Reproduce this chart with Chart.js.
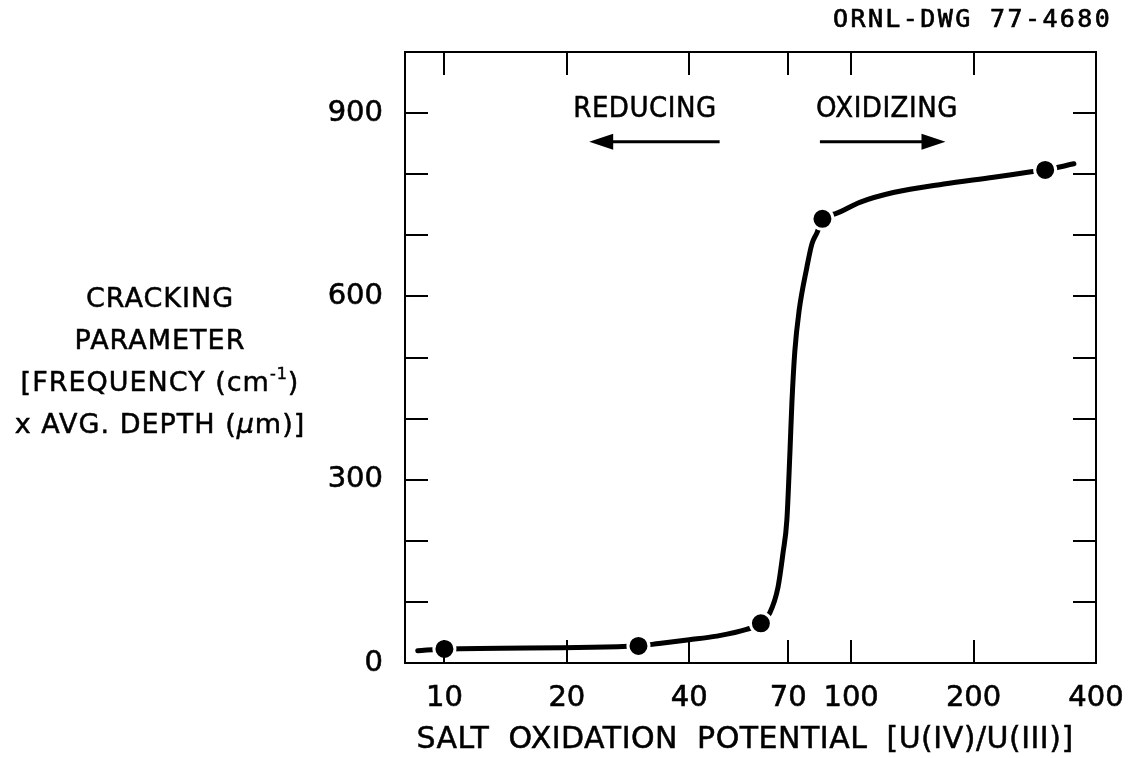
<!DOCTYPE html>
<html>
<head>
<meta charset="utf-8">
<script src="https://cdn.jsdelivr.net/npm/chart.js@4"></script>
<style>
  html, body { margin: 0; padding: 0; background: #fff; }
  #wrap { position: relative; width: 1129px; height: 758px; }
  #c { position: absolute; left: 0; top: 0; }
  .lbl { position: absolute; font-family: "DejaVu Sans", sans-serif; color: #000; white-space: nowrap; font-size: 29px; line-height: 29px; text-align: center; -webkit-text-stroke: 0.5px #000; }
  #dwg { font-family: "DejaVu Sans Mono", monospace; font-size: 25px; line-height: 25px; letter-spacing: 2.4px; left: 833px; top: 6px; width: 294px; text-align: left; -webkit-text-stroke: 0.7px #000; }
  #ytitle { left: 0; width: 320px; top: 277px; line-height: 42px; font-size: 27px; letter-spacing: 1px; }
  #ytitle sup { font-size: 16px; line-height: 0; vertical-align: 12px; }
  #xtitle { left: 400px; width: 690px; top: 723px; font-size: 30px; line-height: 30px; word-spacing: 9px; letter-spacing: 0.5px; }
  #red { font-family: "DejaVu Sans Condensed", "DejaVu Sans", sans-serif; left: 545px; width: 200px; top: 93px; letter-spacing: 0.5px; }
  #oxi { font-family: "DejaVu Sans Condensed", "DejaVu Sans", sans-serif; left: 787px; width: 200px; top: 93px; letter-spacing: 0.5px; }
</style>
</head>
<body>
<div id="wrap">
  <canvas id="c" width="1129" height="758"></canvas>
  <div class="lbl" id="dwg">ORNL-DWG 77-4680</div>
  <div class="lbl" id="ytitle">CRACKING<br>PARAMETER<br>[FREQUENCY (cm<sup>-1</sup>)<br>x AVG. DEPTH (<i>μ</i>m)]</div>
  <div class="lbl" id="xtitle">SALT OXIDATION POTENTIAL [U(IV)/U(III)]</div>
  <div class="lbl" id="red">REDUCING</div>
  <div class="lbl" id="oxi">OXIDIZING</div>
</div>
<script>
// measured points (markers)
const pointX = [10, 30, 60, 85, 300];
const pointY = [23, 28, 65, 727, 807];

// hand-drawn curve
const curveX = [8.6, 10, 30, 33.7, 40, 46.7, 55.3, 60, 63.1, 66.1, 68, 69.5, 70.7, 71.5, 72.7, 74.5, 77.8, 80.1, 82.4, 85, 91.3, 105, 127, 169, 224, 277, 300, 353];
const curveY = [20, 23, 28, 32, 38, 44, 55, 65, 82, 124, 180, 234, 343, 425, 510, 577, 647, 686, 704, 727, 735, 754, 770, 784, 795, 804, 807, 817];

// axes
const xTicks = [10, 20, 40, 70, 100, 200, 400];
const xTickMarks = [10, 20, 40, 70, 100, 200];
const yLabels = [0, 300, 600, 900];
const yTickMarks = [100, 200, 300, 400, 500, 600, 700, 800, 900];

// arrows under REDUCING / OXIDIZING  [fromX, toX, y]
const arrowReducing = [47.5, 22.7, 853];
const arrowOxidizing = [83.8, 170.6, 853];

const frame = {
  id: "frame",
  afterDatasetsDraw(chart) {
    const { ctx, chartArea: a, scales } = chart;
    const tl = 23;
    ctx.save();
    ctx.strokeStyle = "#000";
    ctx.lineWidth = 2;
    ctx.strokeRect(a.left, a.top, a.right - a.left, a.bottom - a.top);
    ctx.beginPath();
    xTickMarks.forEach(v => {
      const x = Math.round(scales.x.getPixelForValue(v));
      ctx.moveTo(x, a.bottom); ctx.lineTo(x, a.bottom - tl);
      ctx.moveTo(x, a.top); ctx.lineTo(x, a.top + tl);
    });
    yTickMarks.forEach(v => {
      const y = Math.round(scales.y.getPixelForValue(v));
      ctx.moveTo(a.left, y); ctx.lineTo(a.left + tl, y);
      ctx.moveTo(a.right, y); ctx.lineTo(a.right - tl, y);
    });
    ctx.stroke();

    // arrows
    [arrowReducing, arrowOxidizing].forEach(([x0, x1, yv]) => {
      const px0 = scales.x.getPixelForValue(x0);
      const px1 = scales.x.getPixelForValue(x1);
      const py = scales.y.getPixelForValue(yv);
      const dir = Math.sign(px1 - px0);
      const head = 24;
      ctx.lineWidth = 3;
      ctx.beginPath();
      ctx.moveTo(px0, py); ctx.lineTo(px1 - dir * head + dir * 2, py);
      ctx.stroke();
      ctx.beginPath();
      ctx.moveTo(px1, py);
      ctx.lineTo(px1 - dir * head, py - 8);
      ctx.lineTo(px1 - dir * head, py + 8);
      ctx.closePath();
      ctx.fillStyle = "#000";
      ctx.fill();
    });
    ctx.restore();
  }
};

const tickFont = { family: "DejaVu Sans", size: 29 };

new Chart(document.getElementById("c"), {
  type: "line",
  data: {
    datasets: [
      {
        type: "scatter",
        data: pointX.map((x, i) => ({ x, y: pointY[i] })),
        pointRadius: 10.5,
        pointHoverRadius: 10.5,
        pointBackgroundColor: "#000",
        pointBorderColor: "#fff",
        pointBorderWidth: 3,
        showLine: false
      },
      {
        data: curveX.map((x, i) => ({ x, y: curveY[i] })),
        borderColor: "#000",
        borderWidth: 5,
        borderCapStyle: "round",
        borderJoinStyle: "round",
        pointRadius: 0,
        cubicInterpolationMode: "monotone",
        fill: false
      }
    ]
  },
  options: {
    responsive: false,
    animation: false,
    devicePixelRatio: 1,
    layout: { padding: { top: 52, right: 33, left: 0, bottom: 0 } },
    plugins: { legend: { display: false }, tooltip: { enabled: false } },
    scales: {
      x: {
        type: "logarithmic",
        min: 8,
        max: 400,
        grid: { display: false, drawTicks: false, tickLength: 0 },
        border: { display: false },
        afterBuildTicks: s => { s.ticks = xTicks.map(v => ({ value: v })); },
        afterFit: s => { s.height = 95; s.paddingLeft = 0; s.paddingRight = 0; },
        ticks: {
          autoSkip: false,
          maxRotation: 0,
          padding: 18,
          color: "#000",
          textStrokeColor: "#000",
          textStrokeWidth: 0.6,
          font: tickFont,
          callback: v => String(v)
        }
      },
      y: {
        min: 0,
        max: 1000,
        grid: { display: false, drawTicks: false, tickLength: 0 },
        border: { display: false },
        afterBuildTicks: s => { s.ticks = yLabels.map(v => ({ value: v })); },
        afterFit: s => { s.width = 405; s.paddingTop = 0; s.paddingBottom = 0; },
        ticks: {
          padding: 22,
          color: "#000",
          textStrokeColor: "#000",
          textStrokeWidth: 0.6,
          font: tickFont,
          callback: v => String(v)
        }
      }
    }
  },
  plugins: [frame]
});
</script>
</body>
</html>
